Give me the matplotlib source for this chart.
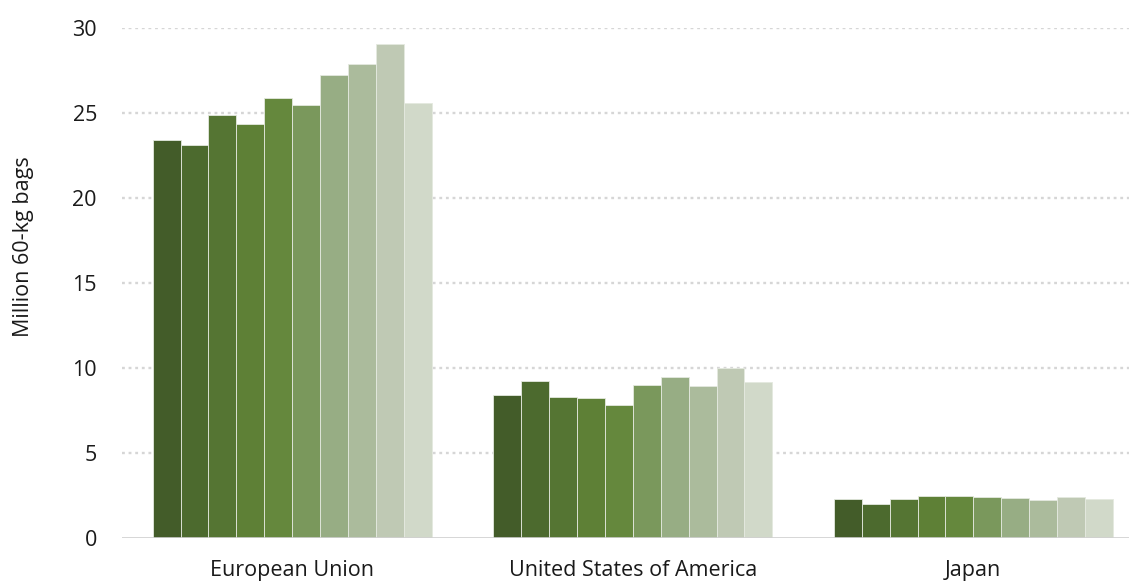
import matplotlib
matplotlib.use("Agg")
import matplotlib.pyplot as plt
import numpy as np

# Data (million 60-kg bags)
regions = ["European Union", "United States of America", "Japan"]
eu = [23.39, 23.08, 24.88, 24.35, 25.88, 25.45, 27.22, 27.85, 29.04, 25.57]
usa = [8.38, 9.20, 8.28, 8.20, 7.79, 8.96, 9.43, 8.94, 10.00, 9.16]
japan = [2.29, 1.96, 2.28, 2.45, 2.43, 2.39, 2.35, 2.20, 2.39, 2.29]
yticks = [0, 5, 10, 15, 20, 25, 30]

shades = ["#435c29", "#4c6a2e", "#557533", "#5e8036", "#65883d",
          "#7a985c", "#97ad84", "#abbb9c", "#bfc9b4", "#d1d9c9"]

plt.rcParams["font.family"] = ["Open Sans", "DejaVu Sans"]

values = np.array([eu, usa, japan])
n_series = values.shape[1]
x = np.arange(len(regions))
group_w = 0.82
bar_w = group_w / n_series

fig = plt.figure(figsize=(11.29, 5.82), dpi=100)
ax = fig.add_axes([0.108, 0.0761, 0.892, 0.8763])

for i in range(n_series):
    ax.bar(x - group_w / 2 + bar_w * (i + 0.5), values[:, i], width=bar_w,
           color=shades[i], edgecolor="#e4e9df", linewidth=0.6, zorder=3)

ax.set_ylim(0, 30)
ax.set_xlim(-0.5, 2.457)
ax.set_yticks(yticks)
ax.set_xticks(x)
ax.set_xticklabels(regions)
ax.tick_params(axis="both", length=0, labelsize=15.5, colors="#1a1a1a")
ax.tick_params(axis="y", pad=18)
ax.tick_params(axis="x", pad=16)

# dotted horizontal gridlines plus solid baseline
for t in yticks[1:]:
    ax.axhline(t, color="#d6d6d6", linestyle=(0, (1.2, 1.6)), linewidth=1.7, zorder=1)
ax.axhline(0, color="#d0d0d0", linewidth=1.2, zorder=4)

for s in ax.spines.values():
    s.set_visible(False)

ax.set_ylabel("Million 60-kg bags", fontsize=15.5, color="#1a1a1a")
ax.yaxis.set_label_coords(-0.087, 0.57)

fig.savefig("out.png", dpi=100)
